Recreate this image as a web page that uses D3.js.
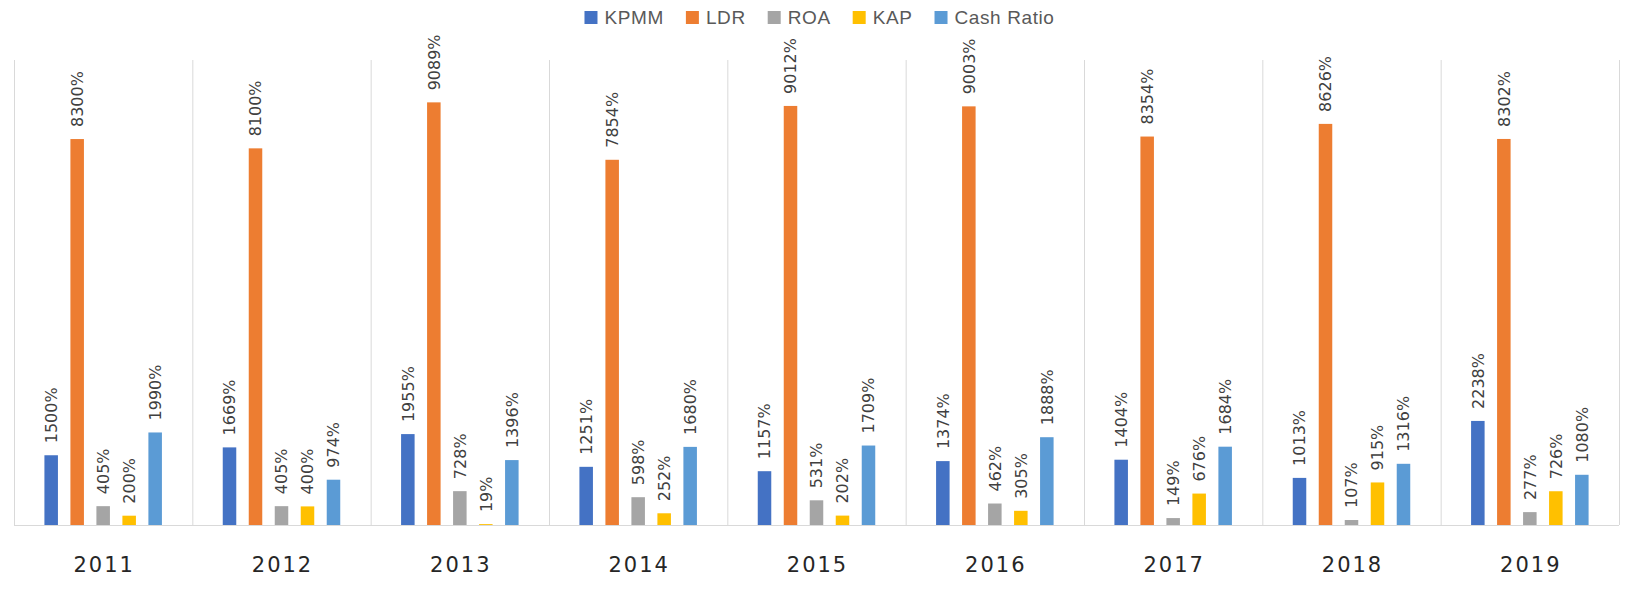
<!DOCTYPE html>
<html>
<head>
<meta charset="utf-8">
<script src="https://cdn.jsdelivr.net/npm/d3@7"></script>
<style>
  html, body { margin: 0; padding: 0; background: #fff; }
  svg { display: block; }
</style>
</head>
<body>
<svg id="chart" width="1631" height="598"></svg>
<script>
// ---- data ----
const years = ["2011","2012","2013","2014","2015","2016","2017","2018","2019"];
const series = ["KPMM","LDR","ROA","KAP","Cash Ratio"];
const KPMM = [1500,1669,1955,1251,1157,1374,1404,1013,2238];
const LDR  = [8300,8100,9089,7854,9012,9003,8354,8626,8302];
const ROA  = [405,405,728,598,531,462,149,107,277];
const KAP  = [200,400,19,252,202,305,676,915,726];
const CashRatio = [1990,974,1396,1680,1709,1888,1684,1316,1080];
const colors = ["#4472C4","#ED7D31","#A5A5A5","#FFC000","#5B9BD5"];

(function () {
const valuesBySeries = [KPMM, LDR, ROA, KAP, CashRatio];
const rows = years.map((yr, i) => ({
  year: yr,
  vals: series.map((s, j) => ({ key: s, value: valuesBySeries[j][i], color: colors[j] }))
}));

// ---- layout ----
const svg = d3.select("#chart");
const plotL = 14, plotR = 1619, plotT = 60, plotB = 525;

const x0 = d3.scaleBand().domain(years).range([plotL, plotR]).padding(0);
const x1 = d3.scaleBand().domain(series).range([0, x0.bandwidth()])
  .paddingInner(0.48).paddingOuter(1.17);
const y = d3.scaleLinear().domain([0, 10000]).range([plotB, plotT]);

// vertical category separators
const bounds = years.map(yv => x0(yv)).concat([plotR]);
svg.append("g").selectAll("line").data(bounds).join("line")
  .attr("x1", d => d + 0.5).attr("x2", d => d + 0.5)
  .attr("y1", plotT).attr("y2", plotB)
  .attr("stroke", "#d9d9d9").attr("stroke-width", 1);

// bars
const groups = svg.append("g").selectAll("g").data(rows).join("g")
  .attr("transform", d => `translate(${x0(d.year)},0)`);

groups.selectAll("rect").data(d => d.vals).join("rect")
  .attr("x", d => x1(d.key))
  .attr("width", x1.bandwidth())
  .attr("y", d => y(d.value))
  .attr("height", d => plotB - y(d.value))
  .attr("fill", d => d.color);

// value labels (rotated)
groups.selectAll("text").data(d => d.vals).join("text")
  .attr("transform", d => `translate(${x1(d.key) + x1.bandwidth() / 2},${y(d.value) - 12}) rotate(-90)`)
  .attr("dy", "0.36em")
  .attr("text-anchor", "start")
  .attr("font-family", "DejaVu Sans")
  .attr("font-size", 16)
  .attr("fill", "#404040")
  .text(d => d.value + "%");

// baseline axis
const xAxis = d3.axisBottom(x0).tickSize(0).tickPadding(0);
const axisG = svg.append("g").attr("transform", `translate(0,${plotB})`).call(xAxis);
axisG.select(".domain").attr("stroke", "#d9d9d9").attr("d", `M${plotL},0.5H${plotR}`);
axisG.selectAll(".tick text")
  .attr("y", 47)
  .attr("dy", 0)
  .attr("dx", 1)
  .attr("font-family", "DejaVu Sans")
  .attr("font-size", 21)
  .attr("letter-spacing", "2px")
  .attr("fill", "#262626");

// legend
const legend = svg.append("g");
const items = legend.selectAll("g").data(series).join("g");
items.append("rect").attr("width", 13).attr("height", 13).attr("y", 11)
  .attr("fill", (d, i) => colors[i]);
items.append("text").attr("x", 20).attr("y", 24)
  .attr("font-family", "Liberation Sans, Arial, sans-serif")
  .attr("font-size", 19)
  .attr("letter-spacing", "0.6px")
  .attr("fill", "#595959")
  .text(d => d);
let cx = 0;
const offs = [];
items.each(function () {
  const w = d3.select(this).select("text").node().getComputedTextLength();
  offs.push(cx);
  cx += 20 + w + 22;
});
const totalW = cx - 22;
const startX = 819.5 - totalW / 2;
items.attr("transform", (d, i) => `translate(${startX + offs[i]},0)`);
})();
</script>
</body>
</html>
